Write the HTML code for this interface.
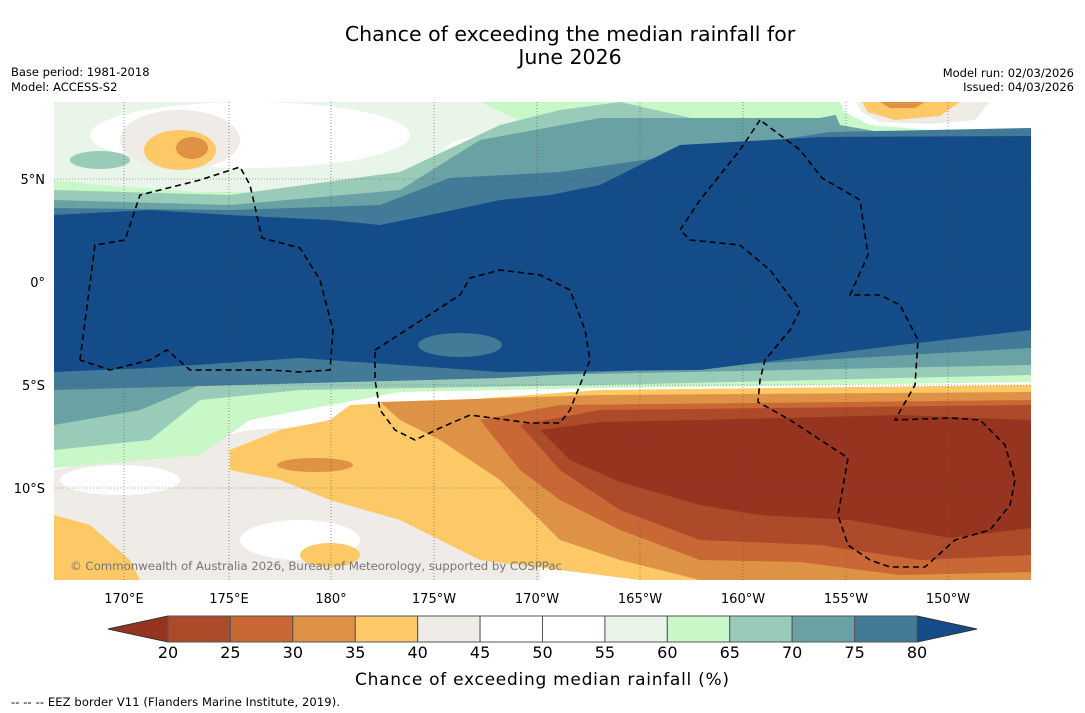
<!DOCTYPE html>
<html><head><meta charset="utf-8"><style>
body{margin:0;background:#fff;width:1085px;height:713px;overflow:hidden;font-family:"DejaVu Sans","Liberation Sans",sans-serif}
svg{position:absolute;left:0;top:0}
</style></head><body>
<svg id="s" width="1085" height="713">
<text x="570" y="41" font-size="20.5" text-anchor="middle">Chance of exceeding the median rainfall for</text>
<text x="570" y="64" font-size="20.5" text-anchor="middle">June 2026</text>
<text x="11" y="76" font-size="11.5">Base period: 1981-2018</text>
<text x="11" y="91" font-size="11.5">Model: ACCESS-S2</text>
<text x="1074" y="77" font-size="11.5" text-anchor="end">Model run: 02/03/2026</text>
<text x="1074" y="91" font-size="11.5" text-anchor="end">Issued: 04/03/2026</text>
<defs><clipPath id="mc"><rect x="54" y="102" width="977" height="478"/></clipPath></defs>
<g clip-path="url(#mc)">
<rect x="54" y="102" width="977" height="478" fill="#fff"/>
<polygon fill="#efebe6" points="54,470 150,450 250,430 400,420 540,400 540,580 54,580"/>
<ellipse cx="300" cy="540" rx="60" ry="20" fill="#fff"/>
<ellipse cx="120" cy="480" rx="60" ry="15" fill="#fff"/>
<ellipse cx="420" cy="495" rx="28" ry="12" fill="#fff"/>
<polygon fill="#fdc866" points="230,450 280,430 330,420 350,405 460,400 600,390 1031,385 1031,580 640,580 560,570 480,560 400,520 330,500 280,480 230,470"/>
<polygon fill="#fdc866" points="54,515 90,525 130,560 140,580 54,580"/>
<ellipse cx="330" cy="555" rx="30" ry="12" fill="#fdc866"/>
<polygon fill="#de9245" points="380,402 600,395 1031,392 1031,580 700,580 620,560 560,540 500,480 440,440 400,420"/>
<ellipse cx="315" cy="465" rx="38" ry="7" fill="#de9245"/>
<polygon fill="#c96834" points="480,420 560,405 1031,400 1031,572 900,575 800,562 700,560 620,530 560,500 520,470"/>
<polygon fill="#ad4a2a" points="520,425 600,410 1031,405 1031,555 920,560 820,545 700,540 620,510 560,470"/>
<polygon fill="#973420" points="540,430 600,422 700,420 900,415 1031,420 1031,528 950,538 850,520 760,515 700,505 620,482 570,460"/>
<polygon fill="#c8f7c8" points="54,102 1031,102 1031,382 600,388 400,392 250,420 200,455 54,468"/>
<polygon fill="#e8f5e8" points="54,102 480,102 540,130 520,175 420,185 300,192 200,192 100,185 54,180"/>
<ellipse cx="250" cy="135" rx="160" ry="33" fill="#fff"/>
<ellipse cx="500" cy="150" rx="55" ry="15" fill="#fff"/>
<ellipse cx="180" cy="140" rx="60" ry="30" fill="#efebe6"/>
<ellipse cx="180" cy="150" rx="36" ry="20" fill="#fdc866"/>
<ellipse cx="192" cy="148" rx="16" ry="11" fill="#de9245"/>
<ellipse cx="100" cy="160" rx="30" ry="9" fill="#98ccb8"/>
<polygon fill="#98ccb8" points="54,190 230,195 400,172 500,125 560,110 620,102 1031,102 1031,375 600,385 300,390 200,400 150,440 54,450"/>
<polygon fill="#c8f7c8" points="620,102 830,102 840,115 800,125 700,120"/>
<polygon fill="#6aa1a4" points="54,200 230,205 400,190 480,140 600,118 820,118 850,112 1031,110 1031,365 400,378 200,385 140,410 54,425"/>
<polygon fill="#c8f7c8" points="830,102 1031,102 1031,140 940,138 880,132 840,125"/>
<polygon fill="#fff" points="840,102 1031,102 1031,132 930,130 870,125 845,112"/>
<polygon fill="#efebe6" points="855,102 990,102 975,120 930,124 880,122 862,112"/>
<polygon fill="#fdc866" points="862,102 960,102 940,116 895,120 868,112"/>
<polygon fill="#de9245" points="880,102 925,102 915,108 890,108"/>
<polygon fill="#437a98" points="54,208 230,210 380,205 450,178 560,172 700,152 830,132 1031,128 1031,348 500,378 54,390"/>
<polygon fill="#134c88" points="54,215 150,210 230,215 330,220 380,225 430,215 500,200 550,195 600,185 680,145 820,137 1031,136 1031,330 900,345 700,370 500,372 300,358 150,368 54,372"/>
<ellipse cx="460" cy="345" rx="42" ry="12" fill="#437a98"/>
<g stroke="#555" stroke-width="0.6" stroke-dasharray="1,2" fill="none">
<line x1="124" y1="102" x2="124" y2="580"/><line x1="229" y1="102" x2="229" y2="580"/><line x1="331" y1="102" x2="331" y2="580"/><line x1="434" y1="102" x2="434" y2="580"/><line x1="537" y1="102" x2="537" y2="580"/><line x1="640" y1="102" x2="640" y2="580"/><line x1="743" y1="102" x2="743" y2="580"/><line x1="846" y1="102" x2="846" y2="580"/><line x1="948" y1="102" x2="948" y2="580"/>
<line x1="54" y1="179" x2="1031" y2="179"/><line x1="54" y1="282" x2="1031" y2="282"/><line x1="54" y1="385" x2="1031" y2="385"/><line x1="54" y1="488" x2="1031" y2="488"/>
</g>
<g stroke="#000" stroke-width="1.6" stroke-dasharray="6,4" fill="none">
<polyline points="80,360 95,245 125,240 140,195 200,180 240,167 250,185 262,238 300,248 320,280 333,330 330,370 300,372 270,370 190,370 167,350 150,360 110,370 80,360"/>
<polyline points="375,350 383,345 460,295 470,278 500,270 540,275 570,290 585,330 590,360 570,410 560,423 530,423 470,415 440,428 415,440 395,430 380,410 375,380 375,350"/>
<polyline points="760,120 740,150 700,200 680,230 690,240 740,245 770,270 800,310 790,330 765,360 760,380 758,402 790,420 848,458 838,515 848,545 870,560 890,567 925,567 955,540 990,530 1010,505 1015,480 1005,445 980,420 950,418 895,420 915,385 918,340 900,305 880,295 850,295 868,255 860,200 822,178 800,150 760,120"/>
</g>
<text x="70" y="570" font-size="11.8" fill="#777" textLength="492">© Commonwealth of Australia 2026, Bureau of Meteorology, supported by COSPPac</text>
</g>
<g font-size="13" text-anchor="middle">
<text x="124" y="603">170°E</text><text x="229" y="603">175°E</text><text x="331" y="603">180°</text><text x="434" y="603">175°W</text><text x="537" y="603">170°W</text><text x="640" y="603">165°W</text><text x="743" y="603">160°W</text><text x="846" y="603">155°W</text><text x="948" y="603">150°W</text>
</g>
<g font-size="13" text-anchor="end">
<text x="45" y="184">5°N</text><text x="45" y="287">0°</text><text x="45" y="390">5°S</text><text x="45" y="493">10°S</text>
</g>
<g id="cb"></g>
<text x="542" y="685" font-size="17" text-anchor="middle" textLength="374">Chance of exceeding median rainfall (%)</text>
<text x="11" y="706" font-size="11.5" textLength="329">--  --  -- EEZ border V11 (Flanders Marine Institute, 2019).</text>
</svg>
<script>
const binEdges=[20,25,30,35,40,45,50,55,60,65,70,75,80];
const binColors=["#ad4a2a","#c96834","#de9245","#fdc866","#efebe6","#ffffff","#ffffff","#e8f5e8","#c8f7c8","#98ccb8","#6aa1a4","#437a98"];
const lowColor="#973420", highColor="#134c88";
const NS="http://www.w3.org/2000/svg";
const g=document.getElementById('cb');
const x0=168,x1=917,y0=616,h=26;
const sx=v=>x0+(v-binEdges[0])/(binEdges[binEdges.length-1]-binEdges[0])*(x1-x0);
function mk(t,a){const e=document.createElementNS(NS,t);for(const k in a)e.setAttribute(k,a[k]);g.appendChild(e);return e;}
let lt=mk('polygon',{points:`${x0},${y0} ${x0},${y0+h} 108,${y0+h/2}`,fill:lowColor,stroke:'#333','stroke-width':1});


let rt=mk('polygon',{points:`${x1},${y0} ${x1},${y0+h} 977,${y0+h/2}`,fill:highColor,stroke:'#333','stroke-width':1});


binColors.forEach((c,i)=>{
 const r=mk('rect',{x:sx(binEdges[i]),y:y0,width:sx(binEdges[i+1])-sx(binEdges[i]),height:h,fill:c,stroke:'#555','stroke-width':1});
 
 
});
binEdges.forEach(v=>{
 const t=mk('text',{x:sx(v),y:658,'font-size':16,'text-anchor':'middle'});
 t.textContent=v;
 
 
});
</script>
</body></html>
